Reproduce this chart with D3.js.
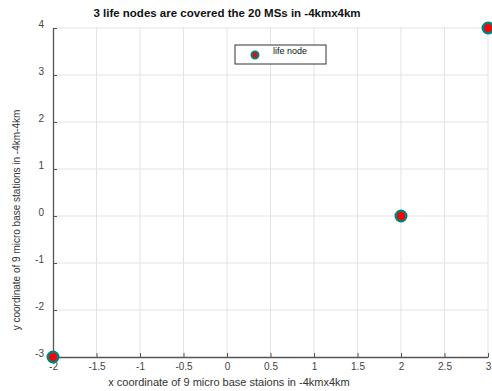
<!DOCTYPE html>
<html>
<head>
<meta charset="utf-8">
<script src="https://cdn.jsdelivr.net/npm/d3@7"></script>
<style>
  body { margin: 0; background: #fff; }
  text { font-family: "Liberation Sans", Arial, sans-serif; }
</style>
</head>
<body>
<div id="chart"></div>
<script>
const width = 492;
const height = 391;

// Data ////////////////////////////////////////
const nodeX = [-2, 2, 3];
const nodeY = [-3, 0, 4];
const xTicks = [-2, -1.5, -1, -0.5, 0, 0.5, 1, 1.5, 2, 2.5, 3];
const yTicks = [-3, -2, -1, 0, 1, 2, 3, 4];
const legendLabel = "life node";

// Layout //////////////////////////////////////
const plotLeft = 53, plotRight = 488, plotTop = 28, plotBottom = 357;

const x = d3.scaleLinear().domain([-2, 3]).range([plotLeft, plotRight]);
const y = d3.scaleLinear().domain([-3, 4]).range([plotBottom, plotTop]);

const svg = d3.select("#chart").append("svg")
  .attr("width", width)
  .attr("height", height);

// grid
svg.append("g").selectAll("line")
  .data(xTicks.slice(1))
  .enter().append("line")
  .attr("x1", d => x(d)).attr("x2", d => x(d))
  .attr("y1", plotTop).attr("y2", plotBottom)
  .attr("stroke", "#e3e3e3").attr("stroke-width", 1);

svg.append("g").selectAll("line")
  .data(yTicks.slice(1))
  .enter().append("line")
  .attr("x1", plotLeft).attr("x2", plotRight)
  .attr("y1", d => y(d)).attr("y2", d => y(d))
  .attr("stroke", "#e3e3e3").attr("stroke-width", 1);

// axes (plain hyphen minus, like the original)
const fmt = d => String(d);
const xAxis = svg.append("g")
  .attr("transform", `translate(0,${plotBottom})`)
  .call(d3.axisBottom(x).tickValues(xTicks).tickSizeInner(-4).tickSizeOuter(0)
    .tickFormat(fmt));
const yAxis = svg.append("g")
  .attr("transform", `translate(${plotLeft},0)`)
  .call(d3.axisLeft(y).tickValues(yTicks).tickSizeInner(-4).tickSizeOuter(0)
    .tickFormat(fmt));

[xAxis, yAxis].forEach(a => {
  a.select(".domain").attr("stroke", "#555").attr("stroke-width", 1.3);
  a.selectAll(".tick line").attr("stroke", "#555");
  a.selectAll(".tick text")
    .attr("fill", "#444")
    .style("font-size", "10px")
    .style("font-family", "Liberation Sans, Arial, sans-serif");
});
xAxis.selectAll(".tick text").attr("y", 6).attr("dy", "0.71em");
yAxis.selectAll(".tick text").attr("x", -9).attr("dy", "-0.1em");

// title & labels
svg.append("text")
  .attr("x", 227).attr("y", 17)
  .attr("text-anchor", "middle")
  .style("font-size", "11.5px").style("font-weight", "bold")
  .attr("fill", "#111")
  .text("3 life nodes are covered the 20 MSs in -4kmx4km");

svg.append("text")
  .attr("x", 229).attr("y", 386)
  .attr("text-anchor", "middle")
  .style("font-size", "11px")
  .attr("fill", "#333")
  .text("x coordinate of 9 micro base staions in -4kmx4km");

svg.append("text")
  .attr("transform", "translate(20,220) rotate(-90)")
  .attr("text-anchor", "middle")
  .style("font-size", "10px")
  .attr("fill", "#333")
  .text("y coordinate of 9 micro base stations in -4km-4km");

// points
const pts = nodeX.map((d, i) => ({ x: d, y: nodeY[i] }));
svg.append("g").selectAll("circle")
  .data(pts)
  .enter().append("circle")
  .attr("cx", d => x(d.x)).attr("cy", d => y(d.y))
  .attr("r", 5.2)
  .attr("fill", "#ff0000")
  .attr("stroke", "#008080").attr("stroke-width", 2.6);

// legend
const lg = svg.append("g").attr("transform", "translate(235,45)");
lg.append("rect")
  .attr("width", 91).attr("height", 19)
  .attr("fill", "#fff").attr("stroke", "#333").attr("stroke-width", 1);
lg.append("circle")
  .attr("cx", 20).attr("cy", 10).attr("r", 3.5)
  .attr("fill", "#ff0000").attr("stroke", "#008080").attr("stroke-width", 2);
lg.append("text")
  .attr("x", 38).attr("y", 9)
  .style("font-size", "9px").attr("fill", "#111")
  .text(legendLabel);
</script>
</body>
</html>
